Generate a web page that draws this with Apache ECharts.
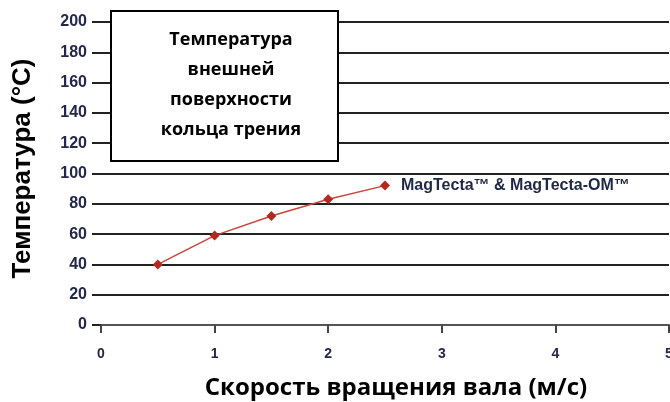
<!DOCTYPE html>
<html>
<head>
<meta charset="utf-8">
<script src="https://cdn.jsdelivr.net/npm/echarts@6/dist/echarts.min.js"></script>
<style>html,body{margin:0;padding:0;background:#fff}#c{width:670px;height:402px}</style>
</head>
<body>
<div id="c"></div>
<script>
const speeds = [0.5, 1, 1.5, 2, 2.5];
const temps = [40, 59, 72, 83, 92];
const seriesName = 'MagTecta™ & MagTecta-OM™';
const boxLines = ['Температура', 'внешней', 'поверхности', 'кольца трения'];
const xTitle = 'Скорость вращения вала (м/с)';
const yTitle = 'Температура (°C)';

const chart = echarts.init(document.getElementById('c'));
chart.setOption({
  animation: false,
  grid: { left: 101, right: 1, top: 22, bottom: 77, outerBoundsMode: 'none', containLabel: false },
  xAxis: {
    type: 'value', min: 0, max: 5, interval: 1,
    axisLine: { show: true, lineStyle: { color: '#555', width: 2 } },
    axisTick: { show: true, length: 8, lineStyle: { color: '#444', width: 2 } },
    axisLabel: { color: '#23284a', fontFamily: 'Liberation Sans', fontWeight: 'bold', fontSize: 14, margin: 22 },
    splitLine: { show: false },
    name: xTitle, nameLocation: 'middle', nameGap: 51,
    nameTextStyle: { fontFamily: 'Open Sans', fontWeight: 'bold', fontSize: 24, color: '#000', padding: [0, 0, 0, 22] }
  },
  yAxis: {
    type: 'value', min: 0, max: 200, interval: 20,
    axisLine: { show: false },
    axisTick: { show: true, length: 9, lineStyle: { color: '#222', width: 2 } },
    axisLabel: { color: '#23284a', fontFamily: 'Liberation Sans', fontWeight: 'bold', fontSize: 16, margin: 14 },
    splitLine: { show: true, lineStyle: { color: '#222', width: 2 } },
    name: yTitle, nameLocation: 'middle', nameGap: 65, nameRotate: 90,
    nameTextStyle: { fontFamily: 'Liberation Sans', fontWeight: 'bold', fontSize: 26, color: '#000', padding: [0, 0, 0, 10] }
  },
  series: [{
    name: seriesName,
    type: 'line',
    data: speeds.map((s, i) => [s, temps[i]]),
    symbol: 'diamond', symbolSize: 10,
    lineStyle: { color: '#c8463c', width: 1.5 },
    itemStyle: { color: '#b22a1e' },
    endLabel: {
      show: true, formatter: seriesName, distance: 16,
      fontFamily: 'Liberation Sans', fontWeight: 'bold', fontSize: 16, color: '#1f2747'
    }
  }],
  graphic: [{
    type: 'group', left: 110, top: 10, z: 100,
    children: [
      { type: 'rect', z: 100, shape: { x: 0, y: 0, width: 227, height: 150 },
        style: { fill: '#fff', stroke: '#000', lineWidth: 2 } },
      { type: 'text', z: 101, x: 120, y: 74,
        style: { text: boxLines.join('\n'), fontFamily: 'Open Sans', fontWeight: 'bold', fontSize: 18,
                 lineHeight: 30, fill: '#000', align: 'center', verticalAlign: 'middle' } }
    ]
  }]
});
</script>
</body>
</html>
